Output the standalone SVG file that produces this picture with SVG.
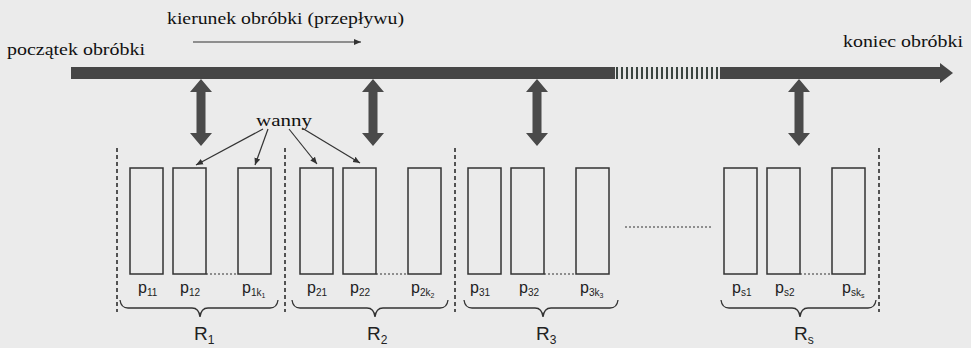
<svg xmlns="http://www.w3.org/2000/svg" width="971" height="348" viewBox="0 0 971 348">
<defs>
<style>
.serif{font-family:"Liberation Serif","Times New Roman",serif;font-size:17px;fill:#111}
.sans{font-family:"Liberation Sans",Arial,sans-serif;fill:#222}
.tank{fill:none;stroke:#333;stroke-width:1.5}
.sep{stroke:#222;stroke-width:1.5;stroke-dasharray:4 3}
.dots{stroke:#333;stroke-width:1.2;stroke-dasharray:2 2}
.brace{fill:none;stroke:#333;stroke-width:1.3}
.thick{fill:#4a4a4a}
.thin{stroke:#333;stroke-width:1.2;fill:none}
</style>
<marker id="ah" markerWidth="8" markerHeight="8" refX="7" refY="4" orient="auto" markerUnits="userSpaceOnUse">
<path d="M0,1 L7,4 L0,7 Z" fill="#333"/>
</marker>
<pattern id="stripes" x="615" y="0" width="5" height="10" patternUnits="userSpaceOnUse">
<rect x="0" y="0" width="5" height="10" fill="#e6e6e6"/>
<rect x="1" y="0" width="2" height="10" fill="#3a4440"/>
</pattern>
</defs>
<rect width="971" height="348" fill="#ebebeb"/>

<g id="process-line">
<rect x="71" y="67" width="544" height="12" fill="#464646"/>
<rect x="615" y="67" width="105" height="12" fill="url(#stripes)"/>
<rect x="720" y="67" width="222" height="12" fill="#464646"/>
<path d="M940,63 L953,73 L940,83 Z" fill="#464646"/>
</g>

<g id="labels-top">
<text class="serif" x="167" y="24" textLength="237" lengthAdjust="spacingAndGlyphs">kierunek obróbki (przepływu)</text>
<text class="serif" x="7" y="55" textLength="138" lengthAdjust="spacingAndGlyphs">początek obróbki</text>
<text class="serif" x="843" y="47" textLength="120" lengthAdjust="spacingAndGlyphs">koniec obróbki</text>
<text class="serif" x="256" y="126" textLength="56" lengthAdjust="spacingAndGlyphs">wanny</text>
</g>

<g id="group-R1">
<line class="sep" x1="117" y1="148" x2="117" y2="312"/>
<rect class="tank" x="130" y="168" width="33" height="106"/>
<rect class="tank" x="173" y="168" width="33" height="106"/>
<rect class="tank" x="238" y="168" width="33" height="106"/>
<line class="dots" x1="206" y1="274" x2="238" y2="274"/>
<text class="sans" font-size="16" x="138" y="293">p<tspan font-size="10" dy="3">11</tspan></text>
<text class="sans" font-size="16" x="180" y="293">p<tspan font-size="10" dy="3">12</tspan></text>
<text class="sans" font-size="16" x="242" y="293">p<tspan font-size="10" dy="3">1k</tspan><tspan font-size="7" dy="2">1</tspan></text>
<path class="brace" d="M120,300 Q121,308 128,308 L192,308 Q199,308 200,317 Q201,308 208,308 L270,308 Q277,308 278,300"/>
<text class="sans" font-size="19" x="194" y="340">R<tspan font-size="12" dy="4">1</tspan></text>
</g>

<g id="group-R2">
<line class="sep" x1="285" y1="148" x2="285" y2="312"/>
<rect class="tank" x="300" y="168" width="33" height="106"/>
<rect class="tank" x="343" y="168" width="33" height="106"/>
<rect class="tank" x="408" y="168" width="33" height="106"/>
<line class="dots" x1="376" y1="274" x2="408" y2="274"/>
<text class="sans" font-size="16" x="307" y="293">p<tspan font-size="10" dy="3">21</tspan></text>
<text class="sans" font-size="16" x="350" y="293">p<tspan font-size="10" dy="3">22</tspan></text>
<text class="sans" font-size="16" x="411" y="293">p<tspan font-size="10" dy="3">2k</tspan><tspan font-size="7" dy="2">2</tspan></text>
<path class="brace" d="M292,300 Q293,308 300,308 L367,308 Q374,308 375,317 Q376,308 383,308 L440,308 Q447,308 448,300"/>
<text class="sans" font-size="19" x="367" y="340">R<tspan font-size="12" dy="4">2</tspan></text>
</g>

<g id="group-R3">
<line class="sep" x1="455" y1="148" x2="455" y2="312"/>
<rect class="tank" x="468" y="168" width="33" height="106"/>
<rect class="tank" x="511" y="168" width="33" height="106"/>
<rect class="tank" x="576" y="168" width="33" height="106"/>
<line class="dots" x1="544" y1="274" x2="576" y2="274"/>
<text class="sans" font-size="16" x="470" y="293">p<tspan font-size="10" dy="3">31</tspan></text>
<text class="sans" font-size="16" x="519" y="293">p<tspan font-size="10" dy="3">32</tspan></text>
<text class="sans" font-size="16" x="580" y="293">p<tspan font-size="10" dy="3">3k</tspan><tspan font-size="7" dy="2">3</tspan></text>
<path class="brace" d="M464,300 Q465,308 472,308 L535,308 Q542,308 543,317 Q544,308 551,308 L610,308 Q617,308 618,300"/>
<text class="sans" font-size="19" x="536" y="340">R<tspan font-size="12" dy="4">3</tspan></text>
</g>

<g id="gap-dots">
<line class="dots" x1="625" y1="227" x2="713" y2="227"/>
</g>

<g id="group-Rs">
<line class="sep" x1="879" y1="148" x2="879" y2="312"/>
<rect class="tank" x="724" y="168" width="33" height="106"/>
<rect class="tank" x="767" y="168" width="33" height="106"/>
<rect class="tank" x="832" y="168" width="33" height="106"/>
<line class="dots" x1="800" y1="274" x2="832" y2="274"/>
<text class="sans" font-size="16" x="732" y="293">p<tspan font-size="10" dy="3">s1</tspan></text>
<text class="sans" font-size="16" x="775" y="293">p<tspan font-size="10" dy="3">s2</tspan></text>
<text class="sans" font-size="16" x="842" y="293">p<tspan font-size="10" dy="3">sk</tspan><tspan font-size="7" dy="2">s</tspan></text>
<path class="brace" d="M721,300 Q722,308 729,308 L792,308 Q799,308 800,317 Q801,308 808,308 L868,308 Q875,308 876,300"/>
<text class="sans" font-size="19" x="794" y="340">R<tspan font-size="12" dy="4">s</tspan></text>
</g>

<g id="connectors">
<line class="thin" x1="193" y1="42" x2="361" y2="42" marker-end="url(#ah)"/>
<path class="thick" d="M201,79 L212,92 L205.5,92 L205.5,133 L212,133 L201,146 L190,133 L196.5,133 L196.5,92 L190,92 Z"/>
<path class="thick" d="M373,79 L384,92 L377.5,92 L377.5,133 L384,133 L373,146 L362,133 L368.5,133 L368.5,92 L362,92 Z"/>
<path class="thick" d="M537,79 L548,92 L541.5,92 L541.5,133 L548,133 L537,146 L526,133 L532.5,133 L532.5,92 L526,92 Z"/>
<path class="thick" d="M799,79 L810,92 L803.5,92 L803.5,133 L810,133 L799,146 L788,133 L794.5,133 L794.5,92 L788,92 Z"/>
<line class="thin" x1="263" y1="129" x2="196" y2="165" marker-end="url(#ah)"/>
<line class="thin" x1="268" y1="129" x2="255" y2="165" marker-end="url(#ah)"/>
<line class="thin" x1="289" y1="129" x2="317" y2="164" marker-end="url(#ah)"/>
<line class="thin" x1="302" y1="128" x2="360" y2="163" marker-end="url(#ah)"/>
</g>
</svg>
